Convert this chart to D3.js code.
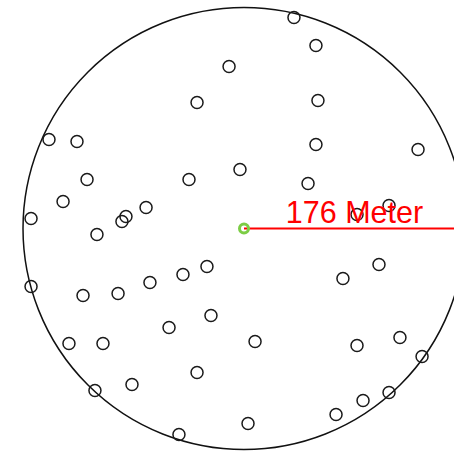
<!DOCTYPE html>
<html>
<head>
<meta charset="utf-8">
<script src="https://cdn.jsdelivr.net/npm/d3@7"></script>
<style>
  html, body { margin: 0; padding: 0; background: #fff; }
  svg { display: block; }
</style>
</head>
<body>
<svg id="chart"></svg>
<script>
// plot radius in meters
const radiusMeters = 176;
const radiusLabel = '176 Meter';

// point positions in meters, relative to the plot centre (y up)
const pointX = [39.8, 57.3, -11.9, -37.4, 58.9, -155.3, -133.0, 57.3, 138.6, -3.2,
  -125.0, -43.8, 51.0, -144.1, -78.0, 115.5, -94.0, -97.2, -169.6, 90.0,
  -117.1, -169.6, -128.2, -100.3, -74.9, -48.6, -29.5, -26.3, -59.7, -139.4,
  -112.3, -37.4, -89.2, -118.7, -51.8, 107.5, 78.8, 8.8, 90.0, 124.2,
  141.8, 115.5, 94.8, 73.3, 3.2];
const pointY = [168.0, 145.7, 129.0, 100.3, 101.9, 70.9, 69.3, 66.9, 62.9, 47.0,
  39.0, 39.0, 35.8, 21.5, 16.7, 18.3, 9.6, 5.6, 8.0, 11.1,
  -4.8, -46.2, -53.4, -51.8, -43.0, -36.6, -30.3, -69.3, -78.8, -91.6,
  -91.6, -114.7, -124.2, -129.0, -164.1, -28.7, -39.8, -90.0, -93.2, -86.8,
  -101.9, -130.6, -137.0, -148.1, -155.3];

const width = 454, height = 454;
const cx = 244, cy = 228.5, r = 221;

const svg = d3.select('#chart')
    .attr('width', width)
    .attr('height', height);

const x = d3.scaleLinear().domain([-radiusMeters, radiusMeters]).range([cx - r, cx + r]);
const y = d3.scaleLinear().domain([-radiusMeters, radiusMeters]).range([cy + r, cy - r]);

// plot boundary
svg.append('circle')
    .attr('cx', x(0))
    .attr('cy', y(0))
    .attr('r', x(radiusMeters) - x(0))
    .attr('fill', 'none')
    .attr('stroke', '#111')
    .attr('stroke-width', 1.5);

// trees
const pts = pointX.map((v, i) => ({x: v, y: pointY[i]}));
svg.selectAll('circle.pt')
    .data(pts)
    .enter().append('circle')
    .attr('class', 'pt')
    .attr('cx', d => x(d.x))
    .attr('cy', d => y(d.y))
    .attr('r', 6)
    .attr('fill', 'none')
    .attr('stroke', '#1a1a1a')
    .attr('stroke-width', 1.5);

// radius line
svg.append('line')
    .attr('x1', x(0))
    .attr('y1', y(0))
    .attr('x2', x(radiusMeters))
    .attr('y2', y(0))
    .attr('stroke', '#ff0000')
    .attr('stroke-width', 2);

svg.append('text')
    .attr('x', x(radiusMeters / 2))
    .attr('y', y(0) - 6)
    .attr('text-anchor', 'middle')
    .attr('font-family', '"Liberation Sans", Arial, sans-serif')
    .attr('font-size', 30.5)
    .attr('fill', '#ff0000')
    .text(radiusLabel);

// centre marker
svg.append('circle')
    .attr('cx', x(0))
    .attr('cy', y(0))
    .attr('r', 4.5)
    .attr('fill', 'none')
    .attr('stroke', '#7ccd45')
    .attr('stroke-width', 3);
</script>
</body>
</html>
